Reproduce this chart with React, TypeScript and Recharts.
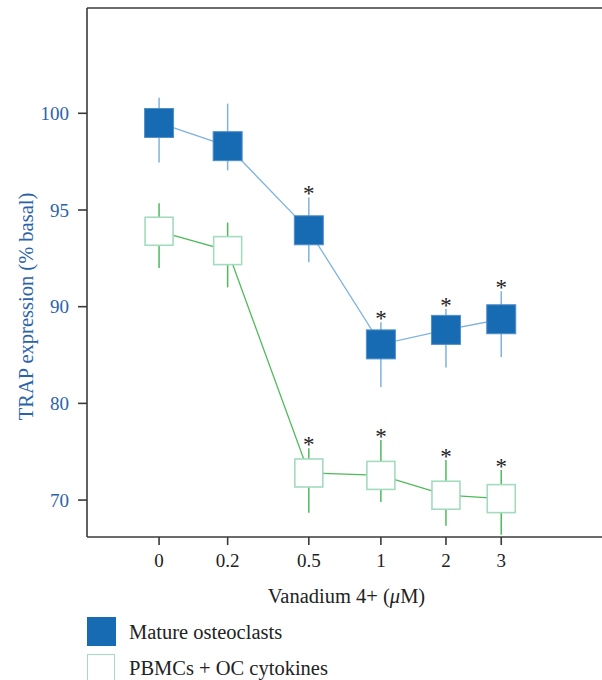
import React from 'react';
import { ComposedChart, Line, Scatter, XAxis, YAxis, ErrorBar, ReferenceLine } from 'recharts';

// doses and their position on the (hand-spaced) dose axis
const doses = ['0', '0.2', '0.5', '1', '2', '3'];
const doseSlot = [0, 0.98, 2.14, 3.17, 4.1, 4.89];

// TRAP expression (% basal): mean, upper and lower whisker ends
const matureMean = [99.5, 98.3, 93.95, 86.1, 87.6, 88.7];
const matureHigh = [100.8, 100.5, 95.65, 88.4, 89.75, 90.8];
const matureLow = [97.45, 97.05, 92.3, 81.7, 83.7, 84.8];
const matureSig = [false, false, true, true, true, true];

const pbmcMean = [93.9, 92.9, 72.8, 72.55, 70.5, 70.15];
const pbmcHigh = [95.35, 94.35, 75.35, 76.2, 74.15, 73.1];
const pbmcLow = [92.0, 91.0, 68.7, 69.8, 67.35, 66.4];
const pbmcSig = [false, false, true, true, true, true];

const yTicks = [100, 95, 90, 80, 70];
const seriesNames = ['Mature osteoclasts', 'PBMCs + OC cytokines'];

// broken y axis: 5 units per step above 90, 10 units per step below
const toPos = (v: number) => (v >= 90 ? (100 - v) / 5 : 2 + (90 - v) / 10);
const fromPos = (p: number) => (p <= 2 ? 100 - 5 * p : 90 - 10 * (p - 2));

const rows = doses.map((d, i) => {
  const m = toPos(matureMean[i]);
  const p = toPos(pbmcMean[i]);
  return {
    x: doseSlot[i],
    dose: d,
    mature: m,
    matureErr: [m - toPos(matureHigh[i]), toPos(matureLow[i]) - m],
    pbmc: p,
    pbmcErr: [p - toPos(pbmcHigh[i]), toPos(pbmcLow[i]) - p],
  };
});

// asterisks sit on top of the upper whisker of significant points
const starsFor = (high: number[], sig: boolean[]) =>
  doseSlot.map((x, i) => ({ x, y: toPos(high[i]), sig: sig[i] })).filter((s) => s.sig);
const stars = [...starsFor(matureHigh, matureSig), ...starsFor(pbmcHigh, pbmcSig)];

const font = '"Liberation Serif", "Times New Roman", serif';
const blueText = '#2b63a8';
const axisColor = '#3a3a3a';
const darkBlue = '#176bb3';
const lightBlue = '#7eb3dd';
const green = '#4fba5a';
const paleGreen = '#a3dbbf';

const xDomain = [-1.03, 6.33];
const yDomain = [-1.089, 4.382];

const FilledSquare = (props: any) => {
  const { cx, cy, index } = props;
  return <rect key={'m' + index} x={cx - 14.5} y={cy - 14.5} width={29} height={29} fill={darkBlue} stroke="#4f8fca" strokeWidth={1} />;
};

const OpenSquare = (props: any) => {
  const { cx, cy, index } = props;
  return <rect key={'p' + index} x={cx - 14} y={cy - 14} width={28} height={28} fill="#fff" stroke={paleGreen} strokeWidth={1.6} />;
};

const Star = (props: any) => {
  const { cx, cy } = props;
  return (
    <text x={cx} y={cy + 4} textAnchor="middle" fontFamily={font} fontSize={23} fill="#222">
      *
    </text>
  );
};

export default function App() {
  return (
    <div style={{ position: 'absolute', left: 0, top: 0, width: 602, height: 680, background: '#fff', fontFamily: font }}>
      <ComposedChart width={602} height={620} data={rows} margin={{ top: 8, right: 0, bottom: 0, left: 0 }}>
        <XAxis
          type="number"
          dataKey="x"
          domain={xDomain}
          allowDataOverflow
          ticks={doseSlot}
          interval={0}
          tickFormatter={(_v: number, i: number) => doses[i]}
          height={83}
          tickSize={8}
          tickMargin={9}
          axisLine={{ stroke: axisColor, strokeWidth: 1.6 }}
          tickLine={{ stroke: axisColor, strokeWidth: 1.6 }}
          tick={{ fill: '#222', fontSize: 19, fontFamily: font }}
          label={{
            content: (p: any) => {
              const vb = p.viewBox;
              return (
                <text x={vb.x + vb.width / 2 + 2} y={vb.y + 66} textAnchor="middle" fontFamily={font} fontSize={20.5} fill="#222">
                  Vanadium 4+ (<tspan fontStyle="italic">μ</tspan>M)
                </text>
              );
            },
          }}
        />
        <YAxis
          type="number"
          reversed
          domain={yDomain}
          allowDataOverflow
          ticks={yTicks.map(toPos)}
          interval={0}
          tickFormatter={(v: number) => String(Math.round(fromPos(v)))}
          width={87}
          tickSize={9}
          tickMargin={9}
          axisLine={{ stroke: axisColor, strokeWidth: 1.6 }}
          tickLine={{ stroke: axisColor, strokeWidth: 1.6 }}
          tick={{ fill: blueText, fontSize: 19, fontFamily: font }}
          label={{
            content: () => (
              <text
                x={33}
                y={306.5}
                transform="rotate(-90 33 306.5)"
                textAnchor="middle"
                fontFamily={font}
                fontSize={20.5}
                fill={blueText}
              >
                TRAP expression (% basal)
              </text>
            ),
          }}
        />
        <ReferenceLine y={yDomain[0]} stroke={axisColor} strokeWidth={1.6} ifOverflow="visible" />
        <Line
          dataKey="pbmc"
          type="linear"
          stroke={green}
          strokeWidth={1.3}
          dot={OpenSquare}
          activeDot={false}
          isAnimationActive={false}
        >
          <ErrorBar dataKey="pbmcErr" width={0} stroke={green} strokeWidth={1.5} direction="y" />
        </Line>
        <Line
          dataKey="mature"
          type="linear"
          stroke={lightBlue}
          strokeWidth={1.3}
          dot={FilledSquare}
          activeDot={false}
          isAnimationActive={false}
        >
          <ErrorBar dataKey="matureErr" width={0} stroke={lightBlue} strokeWidth={1.5} direction="y" />
        </Line>
        <Scatter data={stars} dataKey="y" shape={Star} isAnimationActive={false} />
      </ComposedChart>

      <div style={{ position: 'absolute', left: 87, top: 617, width: 29, height: 29, background: darkBlue }} />
      <div style={{ position: 'absolute', left: 129, top: 619, fontSize: 20.5, lineHeight: '26px', color: '#222' }}>{seriesNames[0]}</div>
      <div style={{ position: 'absolute', left: 87, top: 654, width: 26, height: 26, border: `1.6px solid ${paleGreen}`, background: '#fff' }} />
      <div style={{ position: 'absolute', left: 129, top: 655, fontSize: 20.5, lineHeight: '26px', color: '#222' }}>{seriesNames[1]}</div>
    </div>
  );
}
